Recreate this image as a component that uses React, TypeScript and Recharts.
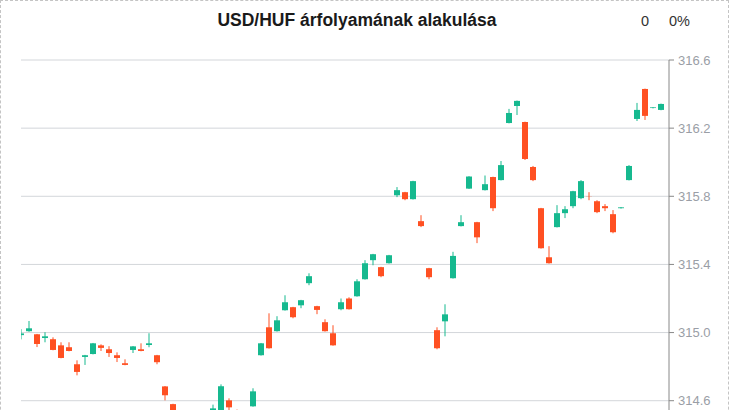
import React from 'react';
import { ComposedChart, Bar, XAxis, YAxis, CartesianGrid } from 'recharts';

const opens = [
  314.985, 315.008, 314.99, 314.968, 314.961, 314.925, 314.914, 314.814, 314.857, 314.874,
  314.925, 314.902, 314.867, 314.82, 314.898, 314.902, 314.927, 314.867, 314.684, 314.58,
  314.48, 314.42, 314.45, 314.41, 314.5, 314.53, 314.602, 314.54, 314.48, 314.567,
  314.867, 315.031, 315.008, 315.131, 315.149, 315.16, 315.29, 315.155, 315.061, 314.996,
  315.137, 315.2, 315.213, 315.313, 315.425, 315.384, 315.407, 315.806, 315.824, 315.783,
  315.654, 315.378, 315.014, 315.066, 315.319, 315.625, 315.845, 315.648, 315.836, 315.913,
  315.895, 316.23, 316.33, 316.236, 315.972, 315.73, 315.442, 315.619, 315.701, 315.742,
  315.789, 315.8, 315.771, 315.742, 315.695, 315.73, 315.895, 316.254, 316.43, 316.318,
  316.307,
];

const closes = [
  314.995, 315.025, 314.933, 314.978, 314.898, 314.851, 314.892, 314.769, 314.867, 314.937,
  314.91, 314.88, 314.851, 314.81, 314.919, 314.892, 314.937, 314.826, 314.632, 314.5,
  314.42, 314.45, 314.4, 314.48, 314.555, 314.685, 314.561, 314.48, 314.52, 314.655,
  314.937, 314.908, 315.072, 315.178, 315.09, 315.19, 315.331, 315.133, 315.008, 314.925,
  315.178, 315.137, 315.301, 315.407, 315.46, 315.331, 315.454, 315.836, 315.783, 315.889,
  315.625, 315.325, 314.908, 315.107, 315.45, 315.648, 315.916, 315.559, 315.871, 315.73,
  315.983, 316.289, 316.36, 316.019, 315.895, 315.495, 315.407, 315.701, 315.724, 315.83,
  315.889, 315.799, 315.707, 315.73, 315.589, 315.735, 315.978, 316.307, 316.272, 316.322,
  316.342,
];

const highs = [
  315.02, 315.068, 314.992, 315.002, 314.972, 314.943, 314.943, 314.837, 314.869, 314.939,
  314.931, 314.92, 314.884, 314.843, 314.921, 314.937, 314.996, 314.869, 314.686, 314.582,
  314.5, 314.49, 314.5, 314.52, 314.577, 314.696, 314.614, 314.548, 314.545, 314.673,
  314.939, 315.113, 315.096, 315.219, 315.151, 315.192, 315.348, 315.157, 315.078, 315.043,
  315.2, 315.207, 315.313, 315.425, 315.462, 315.386, 315.456, 315.854, 315.826, 315.891,
  315.689, 315.38, 315.031, 315.166, 315.474, 315.689, 315.918, 315.65, 315.922, 315.915,
  316.007, 316.313, 316.362, 316.238, 315.978, 315.732, 315.507, 315.748, 315.742, 315.832,
  315.895, 315.824, 315.777, 315.754, 315.719, 315.737, 315.983, 316.348, 316.432, 316.324,
  316.344,
];

const lows = [
  314.96, 315.005, 314.915, 314.943, 314.896, 314.849, 314.89, 314.749, 314.81, 314.872,
  314.892, 314.857, 314.827, 314.808, 314.88, 314.89, 314.914, 314.814, 314.602, 314.47,
  314.4, 314.38, 314.37, 314.39, 314.48, 314.51, 314.53, 314.45, 314.46, 314.565,
  314.865, 314.906, 315.006, 315.129, 315.084, 315.143, 315.278, 315.108, 315.006, 314.923,
  315.131, 315.135, 315.211, 315.311, 315.395, 315.325, 315.405, 315.795, 315.777, 315.781,
  315.619, 315.313, 314.902, 314.978, 315.317, 315.623, 315.843, 315.525, 315.834, 315.713,
  315.893, 316.228, 316.277, 316.013, 315.889, 315.493, 315.405, 315.617, 315.672, 315.73,
  315.783, 315.777, 315.701, 315.713, 315.583, 315.728, 315.893, 316.242, 316.248, 316.316,
  316.305,
];

const priceTicks = [313.8, 314.2, 314.6, 315.0, 315.4, 315.8, 316.2, 316.6];

const UP = '#16b98f';
const DOWN = '#ff5022';

const data = opens.map((open, i) => ({
  i,
  open,
  close: closes[i],
  high: highs[i],
  low: lows[i],
}));

const Candle = (props: any) => {
  const { x, y, width, height, payload } = props;
  if (x == null || y == null || !payload) return null;
  const { open, close, high, low } = payload;
  const top = Math.min(y, y + height);
  const span = Math.abs(height);
  const k = high !== low ? span / (high - low) : 0;
  const py = (v: number) => top + (high - v) * k;
  const cx = x + width / 2;
  const color = close >= open ? UP : DOWN;
  const bTop = py(Math.max(open, close));
  const bBot = py(Math.min(open, close));
  return (
    <g>
      <line x1={cx} x2={cx} y1={top} y2={top + span} stroke={color} strokeWidth={1} />
      <rect x={x} y={bTop} width={width} height={Math.max(bBot - bTop, 0)} fill={color} />
    </g>
  );
};

export default function App() {
  return (
    <div
      style={{
        position: 'absolute',
        left: 0,
        top: 0,
        width: 730,
        height: 410,
        overflow: 'hidden',
        background: '#fff',
        fontFamily: '"Liberation Sans", Arial, sans-serif',
      }}
    >
      <div
        style={{
          position: 'absolute',
          left: 0,
          top: 0,
          width: 729,
          height: 500,
          boxSizing: 'border-box',
          border: '1px dashed #c4c4c4',
          pointerEvents: 'none',
        }}
      />
      <svg width={730} height={40} style={{ position: 'absolute', left: 0, top: 0 }}>
        <text x={357} y={26} textAnchor="middle" fontSize={17.5} fontWeight="bold" fill="#1a1a1a">
          USD/HUF árfolyamának alakulása
        </text>
        <text x={641} y={26} fontSize={14.5} fill="#333">
          0
        </text>
        <text x={669} y={26} fontSize={14.5} fill="#333">
          0%
        </text>
      </svg>
      <div style={{ position: 'absolute', left: 0, top: 0 }}>
        <ComposedChart
          width={730}
          height={542}
          data={data}
          margin={{ top: 60, right: 0, bottom: 5, left: 21 }}
        >
          <CartesianGrid vertical={false} stroke="#d3d6da" />
          <XAxis type="number" dataKey="i" domain={[0, 81]} hide allowDataOverflow />
          <YAxis
            orientation="right"
            width={61}
            domain={[313.8, 316.6]}
            ticks={priceTicks}
            tickFormatter={(v: number) => v.toFixed(1)}
            axisLine={{ stroke: '#888' }}
            tickLine={{ stroke: '#888' }}
            tickSize={5}
            tickMargin={4}
            tick={{ fill: '#9a9ea6', fontSize: 13 }}
            allowDataOverflow
          />
          <Bar
            dataKey={(d: any) => [d.low, d.high]}
            barSize={6}
            shape={<Candle />}
            isAnimationActive={false}
          />
        </ComposedChart>
      </div>
    </div>
  );
}
